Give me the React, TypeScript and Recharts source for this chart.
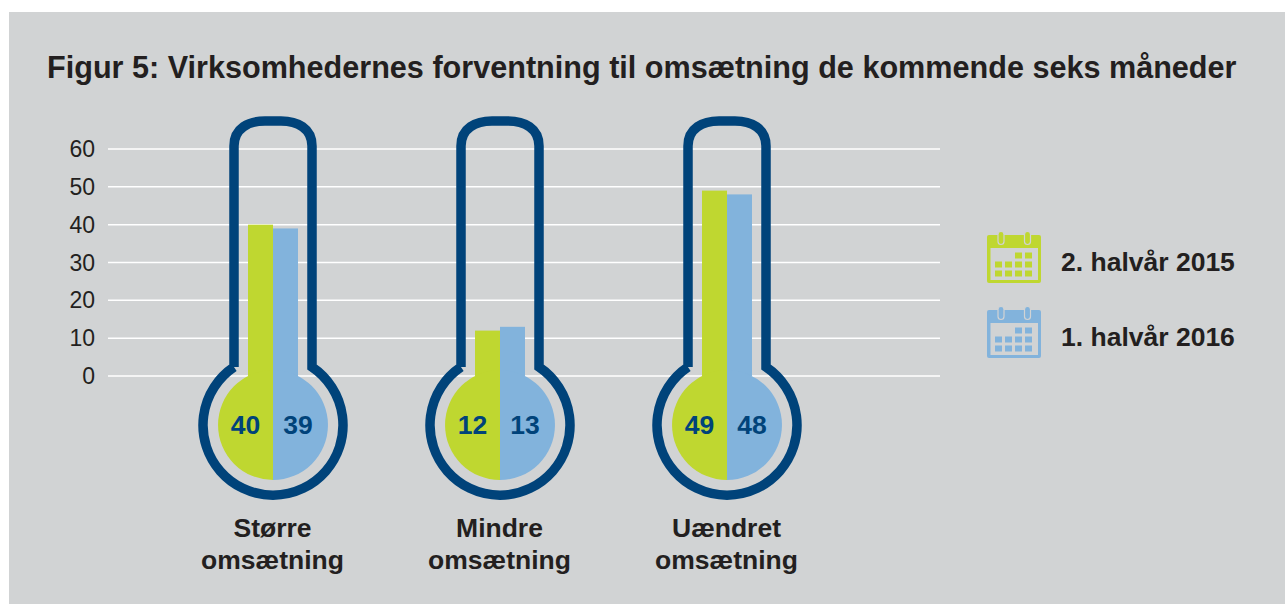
import { Bar, BarChart, CartesianGrid, Legend, XAxis, YAxis } from "recharts";

const categories = ["Større omsætning", "Mindre omsætning", "Uændret omsætning"];
const halvaar2015 = [40, 12, 49];
const halvaar2016 = [39, 13, 48];
const yTicks = [0, 10, 20, 30, 40, 50, 60];

const data = categories.map((name, i) => ({
  name,
  halvaar2015: halvaar2015[i],
  halvaar2016: halvaar2016[i],
}));

const NAVY = "#00437a";
const GREEN = "#bfd730";
const BLUE = "#82b3dc";
const PANEL = "#d1d3d4";
const INK = "#231f20";
const FONT = '"Liberation Sans", Arial, sans-serif';

function Outline({ cx, y0 }: { cx: number; y0: number }) {
  const d = [
    `M ${cx - 39} ${y0 - 9}`,
    `L ${cx - 39} ${y0 - 230}`,
    `C ${cx - 39} ${y0 - 248} ${cx - 24} ${y0 - 255} ${cx - 8} ${y0 - 255}`,
    `L ${cx + 8} ${y0 - 255}`,
    `C ${cx + 24} ${y0 - 255} ${cx + 39} ${y0 - 248} ${cx + 39} ${y0 - 230}`,
    `L ${cx + 39} ${y0 - 9}`,
    `A 70 70 0 1 1 ${cx - 39} ${y0 - 9}`,
  ].join(" ");
  return <path d={d} fill="none" stroke={NAVY} strokeWidth={9.5} />;
}

function GreenShape(props: any) {
  const { x, y, width, height, fill, value } = props;
  const cx = x + width;
  const y0 = y + height;
  return (
    <g>
      <Outline cx={cx} y0={y0} />
      <rect x={x} y={y} width={width} height={height} fill={fill} />
      <path d={`M ${cx} ${y0 - 6} A 55 55 0 0 0 ${cx} ${y0 + 104} Z`} fill={fill} />
      <text x={cx - 27.5} y={y0 + 58} textAnchor="middle" fontFamily={FONT} fontWeight={700} fontSize={26.5} fill={NAVY}>
        {value}
      </text>
    </g>
  );
}

function BlueShape(props: any) {
  const { x, y, width, height, fill, value } = props;
  const y0 = y + height;
  return (
    <g>
      <rect x={x} y={y} width={width} height={height} fill={fill} />
      <path d={`M ${x} ${y0 - 6} A 55 55 0 0 1 ${x} ${y0 + 104} Z`} fill={fill} />
      <text x={x + 25} y={y0 + 58} textAnchor="middle" fontFamily={FONT} fontWeight={700} fontSize={26.5} fill={NAVY}>
        {value}
      </text>
    </g>
  );
}

function CategoryTick({ x, y, payload }: any) {
  const [first, second] = String(payload.value).split(" ");
  return (
    <text textAnchor="middle" fontFamily={FONT} fontWeight={700} fontSize={26.5} fill={INK}>
      <tspan x={x} y={y + 161}>{first}</tspan>
      <tspan x={x} y={y + 193}>{second}</tspan>
    </text>
  );
}

function Calendar({ color }: { color: string }) {
  const cells = [
    [2, 0], [3, 0],
    [0, 1], [1, 1], [2, 1], [3, 1],
    [0, 2], [1, 2], [2, 2], [3, 2],
  ];
  return (
    <svg width={54} height={52} style={{ display: "block", flex: "none" }}>
      <rect x={0} y={4} width={54} height={48} rx={2} fill={color} />
      <rect x={3.5} y={17} width={47.5} height={32} fill={PANEL} />
      <rect x={11} y={0.5} width={6} height={13} rx={3} fill={color} stroke={PANEL} strokeWidth={1.2} />
      <rect x={37.5} y={0.5} width={6} height={13} rx={3} fill={color} stroke={PANEL} strokeWidth={1.2} />
      {cells.map(([c, r]) => (
        <rect key={`${c}-${r}`} x={8 + c * 10} y={21.5 + r * 9} width={7} height={6} fill={color} />
      ))}
    </svg>
  );
}

function LegendBox({ payload }: any) {
  return (
    <div>
      {(payload || []).map((item: any) => (
        <div key={item.value} style={{ display: "flex", alignItems: "center", height: 52, marginBottom: 23 }}>
          <Calendar color={item.color} />
          <span
            style={{
              marginLeft: 20,
              marginTop: 10,
              fontFamily: FONT,
              fontWeight: 700,
              fontSize: 26.5,
              color: INK,
              whiteSpace: "nowrap",
            }}
          >
            {item.value}
          </span>
        </div>
      ))}
    </div>
  );
}

export default function App() {
  return (
    <div style={{ position: "absolute", left: 0, top: 0, width: 1285, height: 604, background: "#fff", overflow: "hidden" }}>
      <div style={{ position: "absolute", left: 9, top: 12, width: 1276, height: 592, background: PANEL }} />
      <div
        style={{
          position: "absolute",
          left: 47,
          top: 50,
          fontFamily: FONT,
          fontWeight: 700,
          fontSize: 30.6,
          lineHeight: "34px",
          color: INK,
          whiteSpace: "nowrap",
        }}
      >
        Figur 5: Virksomhedernes forventning til omsætning de kommende seks måneder
      </div>
      <div style={{ position: "absolute", left: 0, top: 0 }}>
        <BarChart
          width={1285}
          height={604}
          data={data}
          barSize={25}
          barGap={0}
          margin={{ top: 149, right: 345, bottom: 0, left: 0 }}
        >
          <XAxis
            dataKey="name"
            height={228}
            axisLine={false}
            tickLine={false}
            tickSize={0}
            tickMargin={0}
            interval={0}
            padding={{ left: 51, right: 100 }}
            tick={<CategoryTick />}
          />
          <YAxis
            width={108}
            domain={[0, 60]}
            ticks={yTicks}
            interval={0}
            axisLine={false}
            tickLine={false}
            tickSize={0}
            tickMargin={13}
            tick={{ fontFamily: FONT, fontSize: 23, fill: INK }}
          />
          <Bar dataKey="halvaar2015" name="2. halvår 2015" fill={GREEN} shape={<GreenShape />} isAnimationActive={false} />
          <Bar dataKey="halvaar2016" name="1. halvår 2016" fill={BLUE} shape={<BlueShape />} isAnimationActive={false} />
          <CartesianGrid vertical={false} stroke="#ffffff" strokeWidth={1.5} />
          <Legend
            layout="horizontal"
            verticalAlign="middle"
            itemSorter={null}
            content={<LegendBox />}
            wrapperStyle={{ position: "absolute", left: 987, top: 231, width: 290, bottom: "auto", right: "auto" }}
          />
        </BarChart>
      </div>
    </div>
  );
}
